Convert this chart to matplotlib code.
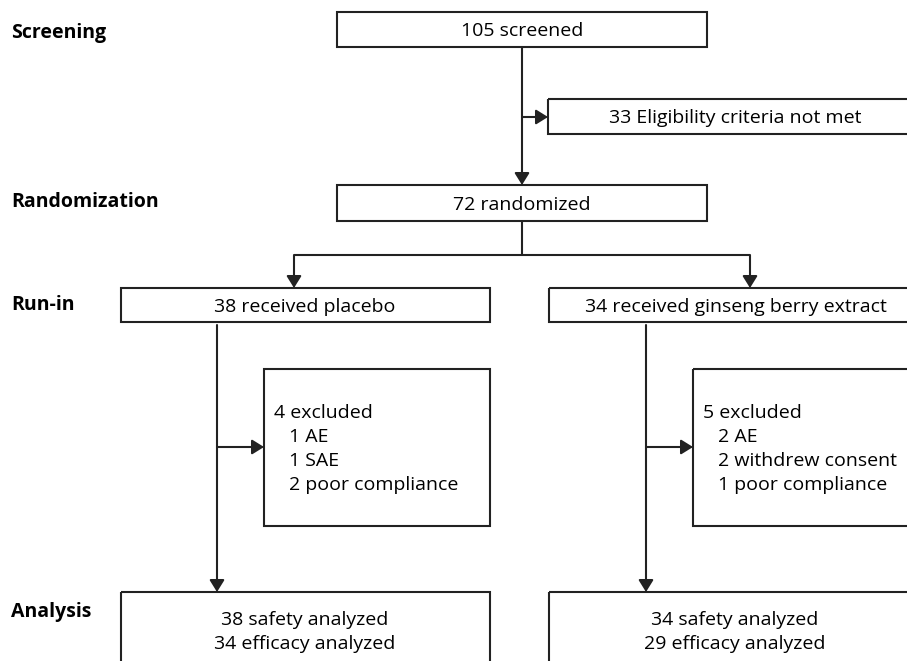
import matplotlib.pyplot as plt
from matplotlib.patches import Rectangle

plt.rcParams['font.family'] = ['Open Sans', 'DejaVu Sans']

# Stage labels on the left.
stageNames = ['Screening', 'Randomization', 'Run-in', 'Analysis']
stageY = [33, 202, 305, 612]

# Box texts.
screenText = '105 screened'
notMetText = '33 Eligibility criteria not met'
randText = '72 randomized'
armText = ['38 received placebo', '34 received ginseng berry extract']
excludeText = [['4 excluded', '1 AE', '1 SAE', '2 poor compliance'],
               ['5 excluded', '2 AE', '2 withdrew consent', '1 poor compliance']]
analysisText = [['38 safety analyzed', '34 efficacy analyzed'],
                ['34 safety analyzed', '29 efficacy analyzed']]

W, H = 907, 661
fig = plt.figure(figsize=(W / 100, H / 100), dpi=100)
ax = fig.add_axes([0, 0, 1, 1])
ax.set_xlim(0, W)
ax.set_ylim(H, 0)
ax.axis('off')

lc = '#222222'
lw = 1.5
fs = 14


def box(x0, y0, x1, y1):
    ax.add_patch(Rectangle((x0, y0), x1 - x0, y1 - y0, fill=False,
                           edgecolor=lc, linewidth=lw, clip_on=False))


def line(xs, ys):
    ax.plot(xs, ys, color=lc, linewidth=lw, solid_capstyle='butt')


def arrow(x0, y0, x1, y1):
    ax.annotate('', xy=(x1, y1), xytext=(x0, y0),
                arrowprops=dict(arrowstyle='-|>,head_length=0.45,head_width=0.28',
                                color=lc, lw=lw,
                                mutation_scale=16, shrinkA=0, shrinkB=0))


# Stage labels.
for name, y in zip(stageNames, stageY):
    ax.text(11, y, name, fontsize=fs, fontweight='bold', va='center', ha='left')

# Screening.
box(337, 12, 707, 47)
ax.text(522, 31, screenText, fontsize=fs, ha='center', va='center')
arrow(522, 47, 522, 185)
arrow(522, 117, 548, 117)
box(548, 99, 920, 134)
ax.text(735, 118, notMetText, fontsize=fs, ha='center', va='center')

# Randomization.
box(337, 185, 707, 221)
ax.text(522, 205, randText, fontsize=fs, ha='center', va='center')
line([522, 522], [221, 255])
line([294, 750], [255, 255])
arrow(294, 255, 294, 288)
arrow(750, 255, 750, 288)

# Run-in arms.
armBox = [(121, 490), (549, 920)]
armCx = [305, 736]
trunkX = [217, 646]
exclBox = [(264, 490), (693, 920)]
for i in range(2):
    x0, x1 = armBox[i]
    box(x0, 288, x1, 322)
    ax.text(armCx[i], 307, armText[i], fontsize=fs, ha='center', va='center')

    tx = trunkX[i]
    arrow(tx, 325, tx, 592)
    arrow(tx, 447, exclBox[i][0], 447)

    ex0, ex1 = exclBox[i]
    box(ex0, 369, ex1, 526)
    for j, t in enumerate(excludeText[i]):
        indent = 0 if j == 0 else 15
        ax.text(ex0 + 10 + indent, 413 + j * 24, t, fontsize=fs,
                ha='left', va='center')

    # Analysis.
    box(x0, 592, x1, 700)
    for j, t in enumerate(analysisText[i]):
        ax.text(armCx[i] if i == 0 else 735, 620 + j * 24, t, fontsize=fs,
                ha='center', va='center')

fig.savefig('out.png', dpi=100, facecolor='white')
